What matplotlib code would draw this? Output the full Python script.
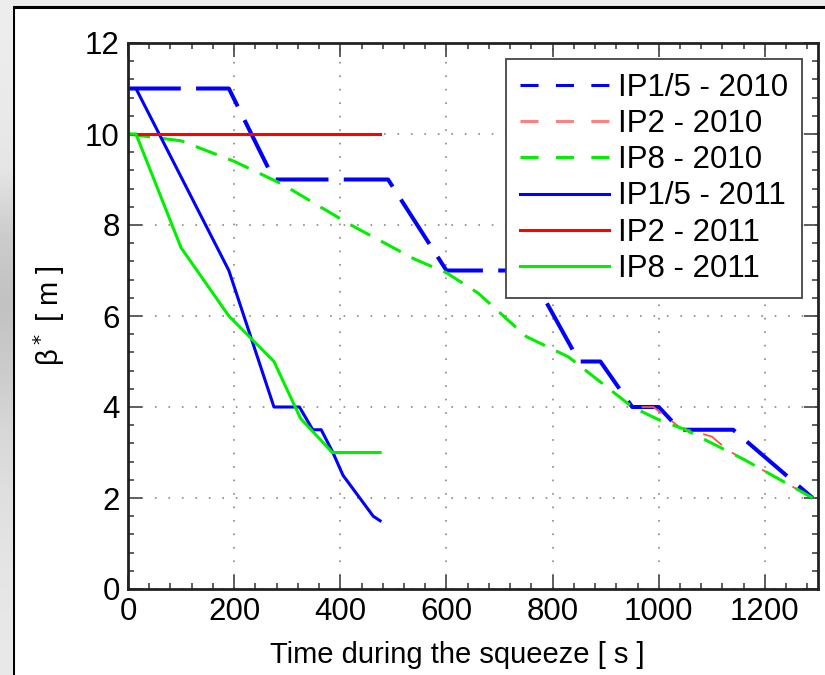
import numpy as np
import matplotlib
matplotlib.use('Agg')
import matplotlib.pyplot as plt
from matplotlib.lines import Line2D
from matplotlib.patches import Rectangle
from matplotlib.ticker import MultipleLocator

plt.rcParams['font.family'] = ['Liberation Sans', 'DejaVu Sans']
plt.rcParams['lines.scale_dashes'] = False

# 2010 squeeze (dashed)
t_ip15_2010 = [0, 190, 275, 490, 600, 755, 850, 890, 950, 1000, 1040, 1140, 1290]
b_ip15_2010 = [11, 11, 9, 9, 7, 7, 5, 5, 4, 4, 3.5, 3.5, 2]
t_ip2_2010 = [0, 100, 200, 290, 420, 540, 600, 660, 750, 830, 950, 990, 1040, 1100, 1130, 1160, 1290]
b_ip2_2010 = [10, 9.85, 9.4, 8.9, 8.0, 7.25, 6.95, 6.5, 5.55, 5.1, 4.0, 4.0, 3.55, 3.35, 3.05, 2.85, 2.0]
t_ip8_2010 = [0, 100, 200, 290, 420, 540, 600, 660, 750, 830, 950, 1000, 1050, 1160, 1290]
b_ip8_2010 = [10, 9.85, 9.4, 8.9, 8.0, 7.25, 6.95, 6.5, 5.55, 5.1, 4.0, 3.72, 3.5, 2.85, 2.0]

# 2011 squeeze (solid)
t_ip15_2011 = [0, 15, 190, 275, 323, 348, 364, 386, 405, 462, 475]
b_ip15_2011 = [11, 11, 7, 4, 4, 3.5, 3.5, 3, 2.5, 1.6, 1.5]
t_ip2_2011 = [0, 475]
b_ip2_2011 = [10, 10]
t_ip8_2011 = [0, 15, 100, 190, 275, 325, 385, 475]
b_ip8_2011 = [10, 10, 7.5, 6, 5, 3.75, 3, 3]

labels = ['IP1/5 - 2010', 'IP2 - 2010', 'IP8 - 2010',
          'IP1/5 - 2011', 'IP2 - 2011', 'IP8 - 2011']

W, H = 825, 675
fig = plt.figure(figsize=(W / 100, H / 100), dpi=100)
fig.patch.set_facecolor('#ececec')

# slide background strip on the left
strip = fig.add_axes([0, 0, 13 / W, 1])
grays = np.array([0.93, 0.92, 0.90, 0.80, 0.76, 0.80, 0.85, 0.88, 0.90, 0.91])
strip.imshow(np.repeat(grays[:, None], 3, axis=1)[:, :, None] * np.ones(3),
             aspect='auto', interpolation='bilinear', extent=[0, 1, 0, 1])
strip.set_axis_off()

# white panel with black border
panel = Rectangle((13 / W, -0.1), 1.2, 1.1 - 7 / H, transform=fig.transFigure,
                  facecolor='white', edgecolor='black', linewidth=2.2, zorder=-1)
fig.patches.append(panel)

ax = fig.add_axes([128 / W, 1 - 589 / H, (818 - 128) / W, (589 - 43) / H])
ax.set_facecolor('white')

blue_dash = (0, (38, 11))
short_dash = (0, (16, 9))
ax.plot(t_ip15_2010, b_ip15_2010, color='#0000ff', lw=2.9, linestyle=blue_dash)
ax.plot(t_ip2_2010, b_ip2_2010, color='#ff5050', lw=1.3, linestyle=short_dash)
ax.plot(t_ip8_2010, b_ip8_2010, color='#00f000', lw=2.2, linestyle=short_dash)
ax.plot(t_ip15_2011, b_ip15_2011, color='#0000ff', lw=2.2)
ax.plot(t_ip2_2011, b_ip2_2011, color='#ff0000', lw=2.2)
ax.plot(t_ip8_2011, b_ip8_2011, color='#00f000', lw=2.2)

ax.set_xlim(0, 1300)
ax.set_ylim(0, 12)
ax.xaxis.set_major_locator(MultipleLocator(200))
ax.xaxis.set_minor_locator(MultipleLocator(40))
ax.yaxis.set_major_locator(MultipleLocator(2))
ax.yaxis.set_minor_locator(MultipleLocator(0.4))
ax.tick_params(which='both', direction='in', top=True, right=True,
               color='#333333', width=1.1, labelsize=22.5)
ax.tick_params(which='major', length=10, pad=6)
ax.tick_params(which='minor', length=4.5)
for s in ax.spines.values():
    s.set_linewidth(2.0)
    s.set_color('#222222')

ax.grid(True, which='major', color='#999999', linestyle=(0, (1.2, 8.5)), linewidth=1.4)
ax.set_axisbelow(True)

ax.set_xlabel('Time during the squeeze [ s ]', fontsize=21, labelpad=10)
ax.xaxis.label.set_x(0.477)
ax.set_ylabel('β$^*$ [ m ]', fontsize=21, labelpad=13)

leg_dash = (0, (13, 12.5))
handles = [
    Line2D([], [], color='#0000ff', lw=2.2, linestyle=leg_dash),
    Line2D([], [], color='#ff8080', lw=2.2, linestyle=leg_dash),
    Line2D([], [], color='#00f000', lw=2.2, linestyle=leg_dash),
    Line2D([], [], color='#0000ff', lw=2.2),
    Line2D([], [], color='#ff0000', lw=2.2),
    Line2D([], [], color='#00f000', lw=2.2),
]
leg = ax.legend(handles, labels, loc='upper right', fontsize=22.5, frameon=True,
                fancybox=False, shadow=False, framealpha=1, edgecolor='#444444',
                handlelength=2.85, handletextpad=0.3, labelspacing=0.2,
                borderpad=0.45, borderaxespad=0.5)
leg.get_frame().set_linewidth(1.3)

fig.savefig('out.png', dpi=100, facecolor=fig.get_facecolor())
